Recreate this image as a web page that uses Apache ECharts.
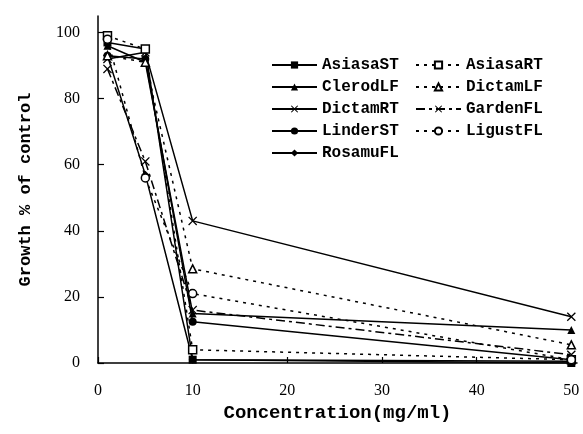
<!DOCTYPE html>
<html>
<head>
<meta charset="utf-8">
<script src="https://cdn.jsdelivr.net/npm/echarts@6/dist/echarts.min.js"></script>
<style>
  html, body { margin: 0; padding: 0; background: #fff; }
  #main { width: 583px; height: 434px; }
</style>
</head>
<body>
<div id="main"></div>
<script>
// concentrations (mg/ml)
const conc = [1, 5, 10, 50]
const yTicks = [0, 20, 40, 60, 80, 100]
const xTicks = [0, 10, 20, 30, 40, 50]

// growth % of control
const asiasaST = [97, 95, 1, 0]
const clerodLF = [96, 91, 15, 10]
const dictamRT = [92, 94, 43, 14]
const linderST = [93, 92, 12.5, 1]
const rosamuFL = [93, 57, 1, 0.5]
const asiasaRT = [99, 95, 4, 1]
const dictamLF = [93, 91, 28.5, 5.5]
const gardenFL = [89, 61, 16, 2.5]
const ligustFL = [98, 56, 21, 1]

const crossPath = 'path://M0,1 L1,0 L5,4 L9,0 L10,1 L6,5 L10,9 L9,10 L5,6 L1,10 L0,9 L4,5 Z'
const monoFont = '"Liberation Mono", "DejaVu Sans Mono", monospace'

function pairs(vals) {
  return conc.map((c, i) => [c, vals[i]])
}

function mkSeries(name, vals, symbol, lineType, open) {
  return {
    name: name,
    type: 'line',
    data: pairs(vals),
    symbol: symbol,
    symbolSize: symbol === crossPath ? 9 : 8,
    showSymbol: true,
    lineStyle: { color: '#000', width: 1.5, type: lineType },
    itemStyle: open
      ? { color: '#fff', borderColor: '#000', borderWidth: 1.5 }
      : { color: '#000', borderColor: '#000', borderWidth: 0 },
    emphasis: { disabled: true },
    animation: false
  }
}

const series = [
  mkSeries('AsiasaST', asiasaST, 'rect', 'solid', false),
  mkSeries('ClerodLF', clerodLF, 'triangle', 'solid', false),
  mkSeries('DictamRT', dictamRT, crossPath, 'solid', false),
  mkSeries('LinderST', linderST, 'circle', 'solid', false),
  mkSeries('RosamuFL', rosamuFL, 'diamond', 'solid', false),
  mkSeries('AsiasaRT', asiasaRT, 'rect', [3, 5], true),
  mkSeries('DictamLF', dictamLF, 'triangle', [3, 5], true),
  mkSeries('GardenFL', gardenFL, crossPath, [9, 4, 3, 4], false),
  mkSeries('LigustFL', ligustFL, 'circle', [3, 5], true)
]

const legendBase = {
  orient: 'vertical',
  top: 52,
  itemWidth: 45,
  itemHeight: 9,
  itemGap: 6,
  selectedMode: false,
  textStyle: { fontFamily: monoFont, fontSize: 16, fontWeight: 'bold', color: '#000' }
}

const chart = echarts.init(document.getElementById('main'), null, { renderer: 'canvas' })
chart.setOption({
  backgroundColor: '#fff',
  animation: false,
  grid: { left: 98, right: 6, top: 16, bottom: 71, containLabel: false },
  legend: [
    Object.assign({}, legendBase, { left: 266, data: ['AsiasaST', 'ClerodLF', 'DictamRT', 'LinderST', 'RosamuFL'] }),
    Object.assign({}, legendBase, { left: 410, data: ['AsiasaRT', 'DictamLF', 'GardenFL', 'LigustFL'] })
  ],
  xAxis: {
    type: 'value',
    min: 0,
    max: 50.6,
    name: 'Concentration(mg/ml)',
    nameLocation: 'middle',
    nameGap: 40,
    nameTextStyle: { fontFamily: monoFont, fontSize: 19, fontWeight: 'bold', color: '#000' },
    axisLine: { show: true, lineStyle: { color: '#000', width: 1.5 } },
    axisTick: { show: true, inside: true, length: 6, customValues: xTicks, lineStyle: { color: '#000', width: 1.2 } },
    axisLabel: { customValues: xTicks, margin: 20, fontFamily: '"Liberation Serif", serif', fontSize: 16, color: '#000' },
    splitLine: { show: false }
  },
  yAxis: {
    type: 'value',
    min: 0,
    max: 105,
    name: 'Growth % of control',
    nameLocation: 'middle',
    nameGap: 64,
    nameRotate: 90,
    nameTextStyle: { fontFamily: monoFont, fontSize: 17, fontWeight: 'bold', color: '#000' },
    axisLine: { show: true, lineStyle: { color: '#000', width: 1.5 } },
    axisTick: { show: true, inside: true, length: 6, customValues: yTicks, lineStyle: { color: '#000', width: 1.2 } },
    axisLabel: { customValues: yTicks, margin: 18, fontFamily: '"Liberation Serif", serif', fontSize: 16, color: '#000' },
    splitLine: { show: false }
  },
  series: series
})
</script>
</body>
</html>
